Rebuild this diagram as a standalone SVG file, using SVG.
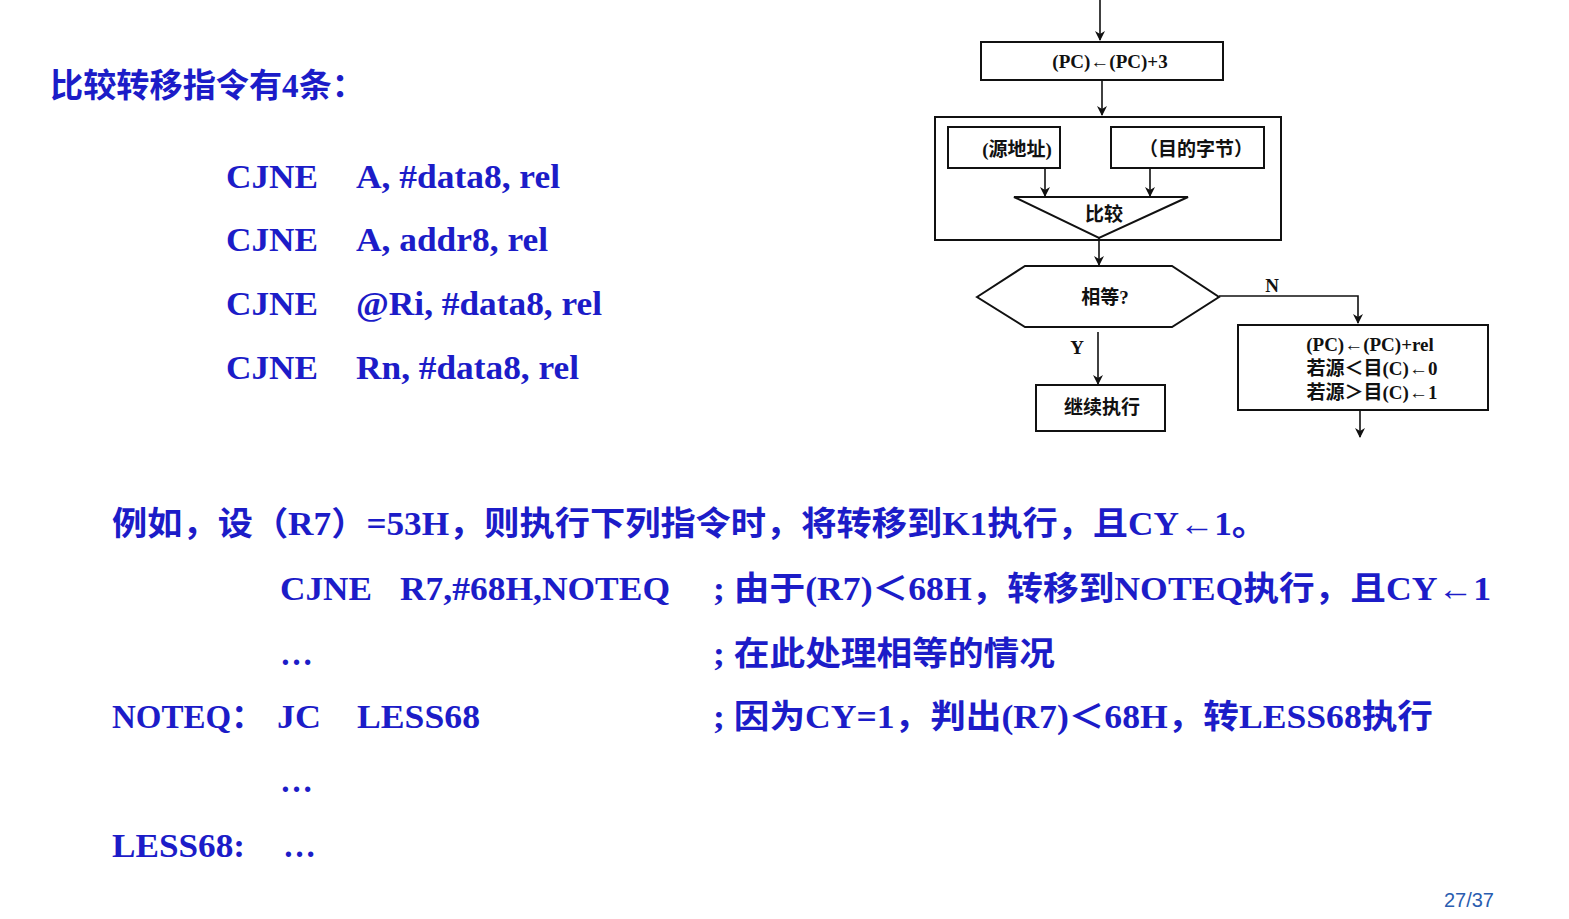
<svg xmlns="http://www.w3.org/2000/svg" width="1569" height="919" viewBox="0 0 1569 919">
<style>
.t{font-family:"Liberation Serif","Noto Sans CJK SC",serif;font-weight:bold;fill:#1c1cc8;font-size:33px}
.f{font-family:"Liberation Serif","Noto Sans CJK SC",serif;font-weight:bold;fill:#111;font-size:19px}
.s{fill:none;stroke:#111;stroke-width:2}
.c{fill:none;stroke:#111;stroke-width:1.6;marker-end:url(#a)}
</style>
<defs><marker id="a" markerWidth="10" markerHeight="10" refX="9" refY="5" orient="auto" markerUnits="userSpaceOnUse"><path d="M0,0 L10,5 L0,10 L3,5 z" fill="#111"/></marker></defs>
<rect width="1569" height="919" fill="#fff"/>
<g id="text">
<text class="t" x="50" y="97" textLength="315" lengthAdjust="spacingAndGlyphs">比较转移指令有4条：</text>
<text class="t" x="226" y="188" textLength="92" lengthAdjust="spacingAndGlyphs">CJNE</text><text class="t" x="356" y="188" textLength="204" lengthAdjust="spacingAndGlyphs">A, #data8, rel</text>
<text class="t" x="226" y="251" textLength="92" lengthAdjust="spacingAndGlyphs">CJNE</text><text class="t" x="356" y="251" textLength="192" lengthAdjust="spacingAndGlyphs">A, addr8, rel</text>
<text class="t" x="226" y="315" textLength="92" lengthAdjust="spacingAndGlyphs">CJNE</text><text class="t" x="356" y="315" textLength="246" lengthAdjust="spacingAndGlyphs">@Ri, #data8, rel</text>
<text class="t" x="226" y="379" textLength="92" lengthAdjust="spacingAndGlyphs">CJNE</text><text class="t" x="356" y="379" textLength="223" lengthAdjust="spacingAndGlyphs">Rn, #data8, rel</text>
<text class="t" x="112" y="535" textLength="1155" lengthAdjust="spacingAndGlyphs">例如，设（R7）=53H，则执行下列指令时，将转移到K1执行，且CY←1。</text>
<text class="t" x="280" y="600" textLength="92" lengthAdjust="spacingAndGlyphs">CJNE</text>
<text class="t" x="400" y="600" textLength="270" lengthAdjust="spacingAndGlyphs">R7,#68H,NOTEQ</text>
<text class="t" x="713" y="600" textLength="778" lengthAdjust="spacingAndGlyphs">; 由于(R7)＜68H，转移到NOTEQ执行，且CY←1</text>
<text class="t" x="280" y="665">…</text>
<text class="t" x="713" y="665" textLength="342" lengthAdjust="spacingAndGlyphs">; 在此处理相等的情况</text>
<text class="t" x="112" y="728" textLength="152" lengthAdjust="spacingAndGlyphs">NOTEQ：</text>
<text class="t" x="277" y="728" textLength="44" lengthAdjust="spacingAndGlyphs">JC</text>
<text class="t" x="357" y="728" textLength="123" lengthAdjust="spacingAndGlyphs">LESS68</text>
<text class="t" x="713" y="728" textLength="720" lengthAdjust="spacingAndGlyphs">; 因为CY=1，判出(R7)＜68H，转LESS68执行</text>
<text class="t" x="280" y="792">…</text>
<text class="t" x="112" y="857" textLength="133" lengthAdjust="spacingAndGlyphs">LESS68:</text><text class="t" x="283" y="857">…</text>
<text x="1494" y="907" text-anchor="end" style="font-family:'Liberation Sans',sans-serif;font-size:20px;fill:#2a5db0">27/37</text>
</g>
<g id="n1"><rect class="s" x="981" y="42" width="242" height="38"/><text class="f" x="1110" y="68" text-anchor="middle">(PC)←(PC)+3</text></g>
<g id="n2"><rect class="s" x="935" y="117" width="346" height="123"/></g>
<g id="n3"><rect class="s" x="948" y="127" width="112" height="41"/><text class="f" x="1017" y="156" text-anchor="middle">(源地址)</text></g>
<g id="n4"><rect class="s" x="1111" y="127" width="153" height="41"/><text class="f" x="1196" y="156" text-anchor="middle">（目的字节）</text></g>
<g id="n5"><polygon class="s" points="1014,197 1188,197 1099,238"/><text class="f" x="1104" y="221" text-anchor="middle">比较</text></g>
<g id="n6"><polygon class="s" points="977,297 1025,266 1172,266 1219,297 1172,327 1025,327"/><text class="f" x="1105" y="304" text-anchor="middle">相等?</text></g>
<g id="n7"><rect class="s" x="1036" y="385" width="129" height="46"/><text class="f" x="1102" y="414" text-anchor="middle">继续执行</text></g>
<g id="n8"><rect class="s" x="1238" y="325" width="250" height="85"/>
<text class="f" x="1370" y="351" text-anchor="middle">(PC)←(PC)+rel</text>
<text class="f" x="1372" y="375" text-anchor="middle">若源＜目(C)←0</text>
<text class="f" x="1372" y="399" text-anchor="middle">若源＞目(C)←1</text></g>
<g id="connectors">
<line class="c" x1="1100" y1="0" x2="1100" y2="40"/>
<line class="c" x1="1102" y1="80" x2="1102" y2="115"/>
<line class="c" x1="1045" y1="168" x2="1045" y2="196"/>
<line class="c" x1="1150" y1="168" x2="1150" y2="196"/>
<line class="c" x1="1099" y1="238" x2="1099" y2="265"/>
<polyline class="c" points="1219,296 1358,296 1358,323"/>
<line class="c" x1="1098" y1="332" x2="1098" y2="384"/>
<line class="c" x1="1360" y1="410" x2="1360" y2="437"/>
<text class="f" x="1272" y="292" text-anchor="middle">N</text>
<text class="f" x="1077" y="354" text-anchor="middle">Y</text>
</g>
</svg>
